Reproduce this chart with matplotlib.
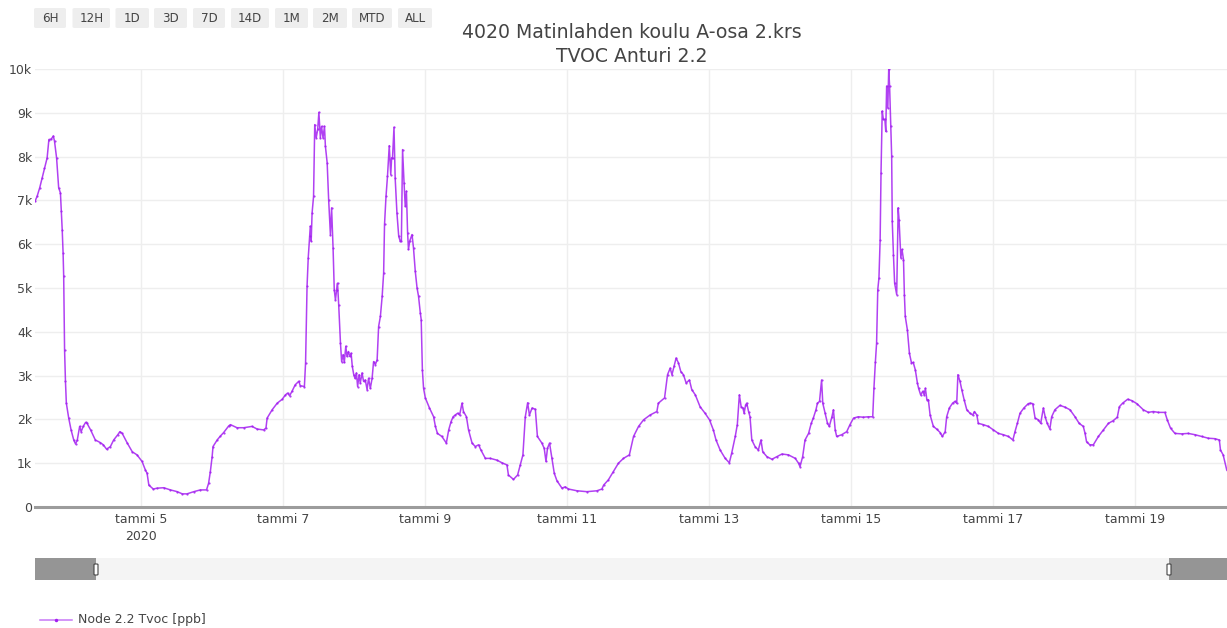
import matplotlib
matplotlib.use('Agg')
import matplotlib.pyplot as plt
import pandas as pd
from matplotlib.patches import FancyBboxPatch, Rectangle
from matplotlib.lines import Line2D

plt.rcParams['font.family'] = ['DejaVu Sans']

# ---------------- data ----------------
title_lines = ['4020 Matinlahden koulu A-osa 2.krs', 'TVOC Anturi 2.2']
series_name = 'Node 2.2 Tvoc [ppb]'
buttons = ['6H', '12H', '1D', '3D', '7D', '14D', '1M', '2M', 'MTD', 'ALL']

start_time = '2020-01-03 12:00'
# hours after start_time
hours = [
    0.0, 0.7, 1.6, 2.4, 3.2, 4.1, 4.7, 5.5, 6.2, 6.6, 7.3, 8.0, 8.6, 8.9, 9.2, 9.5, 9.7, 10.0, 10.3, 10.6,
    11.4, 12.2, 13.1, 13.7, 14.3, 15.1, 15.6, 16.3, 17.1, 17.6, 18.8, 20.4, 22.1, 23.1, 24.2, 25.5, 26.6,
    28.0, 28.7, 29.5, 31.2, 32.9, 34.5, 36.2, 37.3, 37.9, 38.5, 40.0, 41.3, 43.5, 45.8, 48.1, 49.8, 51.4,
    53.7, 55.9, 58.0, 58.7, 59.3, 59.9, 60.2, 61.6, 62.7, 63.8, 65.5,
    66.1, 68.3, 70.6, 73.4, 75.1, 77.3, 78.1, 78.5, 80.2, 81.9, 83.6, 84.7, 85.4, 86.1, 86.9, 88.0, 89.2,
    89.7, 91.1, 91.5, 92.0, 92.4, 92.9, 93.1, 93.4, 93.7, 94.2, 94.6, 95.1, 95.6, 96.0, 96.5, 96.9, 97.4,
    97.9, 98.2, 98.8, 99.3, 99.9, 100.3, 100.8, 101.2, 101.6, 102.0, 102.3, 102.7, 103.3, 103.7, 104.2,
    104.6, 105.1, 105.5, 106.0, 106.4, 106.9, 107.3, 107.8, 108.2, 108.7, 109.1, 109.6, 110.0, 110.6,
    111.1, 111.7, 112.3, 112.8, 113.4, 114.0, 114.5, 115.1, 115.7, 116.2, 116.8, 117.4, 117.9, 118.2,
    118.7, 119.2, 119.8, 120.3, 120.6, 120.9, 121.4, 121.8, 122.4, 123.0, 123.5, 123.9, 124.3, 124.8,
    125.2, 125.6, 126.0, 126.3, 126.7, 127.5, 128.0, 128.6, 129.2, 129.7, 130.3, 130.6, 131.0, 131.4,
    132.0, 133.4,
    134.8, 135.4, 136.1, 137.6, 139.1, 139.9, 140.7, 141.4, 142.1, 142.9, 143.6, 144.4, 144.9, 145.9,
    146.6, 147.8, 148.9, 150.0, 150.8, 152.3, 154.0, 156.2, 157.9, 159.6, 160.1, 161.8, 163.2, 164.1,
    165.0, 165.8, 166.6, 167.2, 168.1, 169.2, 169.9, 171.4, 172.2, 172.8, 173.3, 174.0, 174.8, 175.6,
    176.5, 178.2, 179.3, 180.4, 183.3, 186.6, 190.0, 191.7, 192.3, 193.9, 195.6, 197.3, 199.0, 201.0,
    202.4, 204.1, 205.8, 208.0, 210.3, 210.8, 212.9, 213.9, 214.8, 215.4, 216.1, 216.8, 217.6, 218.4,
    219.3, 220.2, 221.3, 222.1, 223.3, 224.9, 226.6, 228.1, 229.4, 230.3, 231.7, 233.4, 234.8, 235.6,
    236.8, 237.5, 238.2, 238.8, 239.4, 239.8, 240.3, 240.7, 241.3, 241.8, 242.4, 243.5, 244.6, 245.5,
    246.1, 247.5, 249.2, 250.9, 252.6, 254.8, 257.1, 258.2, 258.7, 259.6, 260.4, 261.6, 262.5, 263.2,
    264.1, 264.6, 265.3, 266.0, 266.4, 267.2, 268.0, 268.6,
    269.5, 270.0, 270.6, 271.1, 272.8, 274.5, 275.6, 276.8, 278.4, 280.1, 281.8, 283.3, 283.7, 284.2,
    284.6, 285.0, 285.4, 285.8, 286.1, 286.5, 286.9, 287.4, 287.7, 288.0, 288.4, 288.7, 289.0, 289.4,
    289.7, 289.9, 290.3, 290.7, 291.4, 291.9, 292.2, 292.8, 293.2, 293.7, 294.0, 294.3, 295.0, 295.7,
    296.4, 297.0, 297.7, 298.4, 298.8, 299.5, 300.2, 300.7, 301.1, 301.6, 302.1, 302.7, 303.8, 304.9,
    306.1, 306.8, 307.8, 308.3, 309.2, 310.3, 311.1, 311.7, 312.1, 312.8, 313.4, 314.2, 315.1, 316.2,
    317.1, 317.7, 318.5, 319.0, 320.7, 322.4, 324.1, 325.8, 327.5, 329.2, 330.7, 331.4, 332.2, 333.1,
    334.4, 335.9,
    336.5, 337.4, 338.2, 339.3, 340.1, 341.0, 341.6, 342.3, 343.2, 343.8, 344.9, 346.6, 348.3, 350.0,
    351.7, 353.1, 354.5, 355.1, 355.6, 356.7, 357.9, 359.6, 361.3, 363.0, 364.6, 366.0, 366.7, 367.8,
    369.5, 370.9, 372.6, 374.8, 376.5, 378.2, 379.9, 382.1, 382.9, 384.0, 385.5, 387.8, 390.0, 392.3,
    394.5, 396.8, 399.0, 400.5, 400.9, 401.8, 403.0,
]
tvoc_ppb = [
    6980, 7090, 7290, 7510, 7740, 7970, 8390, 8400, 8470, 8350, 7970, 7290, 7170, 6750, 6330, 5800, 5270, 3590, 2870, 2370,
    2030, 1760, 1530, 1440, 1530, 1840, 1720, 1840, 1930, 1910, 1760, 1530, 1470, 1420, 1320, 1380, 1530,
    1650, 1720, 1680, 1460, 1260, 1190, 1040, 850, 770, 500, 410, 430, 440, 390, 350, 300, 300,
    350, 390, 390, 540, 810, 1150, 1380, 1530, 1620, 1700, 1850,
    1880, 1810, 1810, 1840, 1780, 1760, 1800, 2030, 2220, 2370, 2460, 2560, 2600, 2540, 2640, 2790, 2870,
    2770, 2750, 3290, 5040, 5690, 6180, 6410, 6070, 6710, 7090, 8730, 8430, 8620, 9010, 8430, 8690, 8430,
    8690, 8240, 7860, 7020, 6220, 6830, 5910, 4960, 4730, 4960, 5110, 4620, 3740, 3320, 3480,
    3300, 3670, 3440, 3550, 3440, 3510, 3210, 3020, 2940, 3060, 2750, 3020, 2830, 3060,
    2870, 2900, 2680, 2940, 2710, 2940, 3320, 3250, 3360, 4120, 4350, 4810, 5340, 6450,
    7090, 7550, 8250, 7590, 7970, 7970, 8670, 7510, 6710, 6180, 6070, 6070, 8160, 7400,
    6870, 7210, 6260, 5880, 6070, 6220, 5910, 5380, 5000, 4810, 4430, 4280, 3130, 2710,
    2490, 2260,
    2060, 1840, 1680, 1610, 1460, 1760, 1950, 2060, 2100, 2140, 2100, 2370, 2180, 2060,
    1760, 1460, 1380, 1420, 1300, 1110, 1110, 1070, 1010, 960, 730, 630, 730, 960,
    1190, 2060, 2380, 2100, 2260, 2230, 1610, 1460, 1340, 1040, 1340, 1460, 1110, 770,
    600, 430, 460, 410, 370, 350, 370, 410, 500, 620, 810, 1000, 1110, 1190,
    1610, 1840, 1990, 2100, 2180, 2370, 2490, 3020, 3170, 3020, 3210, 3400, 3290, 3090,
    3020, 2830, 2900, 2680, 2560, 2290, 2140, 1990, 1760, 1530, 1300, 1110, 1010, 1230,
    1610, 1880, 2560, 2290, 2260, 2140, 2330, 2370, 2180, 2060, 1530, 1380, 1300, 1530,
    1260, 1150, 1090, 1150, 1210, 1190, 1110, 1000, 920, 1150, 1530, 1680, 1910, 2030,
    2220, 2370, 2410, 2900, 2370, 2140, 1910, 1840,
    2060, 2220, 1760, 1610, 1650, 1720, 1880, 2030, 2060, 2050, 2060, 2060, 2710, 3320,
    3740, 4960, 5230, 6100, 7630, 9040, 8850, 8850, 8580, 9610, 9110, 9990, 9610, 8690,
    8010, 6520, 5760, 5110, 4850, 6830, 6560, 5690, 5880, 5650, 4850, 4350, 4050, 3510,
    3290, 3300, 3130, 2830, 2710, 2560, 2640, 2560, 2710, 2450, 2450, 2100, 1840, 1780,
    1700, 1610, 1720, 2060, 2260, 2370, 2410, 2370, 3020, 2870, 2680, 2450, 2220, 2140,
    2100, 2180, 2100, 1910, 1880, 1840, 1760, 1680, 1650, 1610, 1530, 1720, 1910, 2140,
    2260, 2360,
    2370, 2360, 2030, 1990, 1910, 2260, 2060, 1910, 1780, 2060, 2220, 2320, 2280, 2220,
    2060, 1910, 1840, 1680, 1490, 1420, 1420, 1610, 1760, 1910, 1970, 2050, 2290, 2370,
    2460, 2430, 2360, 2220, 2160, 2180, 2160, 2160, 1990, 1800, 1680, 1670, 1680, 1650,
    1610, 1570, 1560, 1530, 1300, 1190, 850,
]
end_hours = 403.1

ytick_values = [0, 1000, 2000, 3000, 4000, 5000, 6000, 7000, 8000, 9000, 10000]
ytick_labels = ['0', '1k', '2k', '3k', '4k', '5k', '6k', '7k', '8k', '9k', '10k']
xtick_dates = pd.date_range('2020-01-05', '2020-01-19', freq='2D')
xtick_labels = ['tammi 5\n2020', 'tammi 7', 'tammi 9', 'tammi 11', 'tammi 13',
                'tammi 15', 'tammi 17', 'tammi 19']

# ---------------- figure ----------------
W, H = 1227, 628
fig = plt.figure(figsize=(W / 100, H / 100), dpi=100)
fig.patch.set_facecolor('white')

t0 = pd.Timestamp(start_time)
times = t0 + pd.to_timedelta(hours, unit='h')
t_end = t0 + pd.to_timedelta(end_hours, unit='h')

LINE = '#a31ff0'
TXT = '#444444'

ax = fig.add_axes([35 / W, (H - 507) / H, 1192 / W, 438 / H])
ax.plot(times, tvoc_ppb, color=LINE, lw=1.1, alpha=0.85,
        marker='o', markersize=1.6, markerfacecolor=LINE, markeredgewidth=0,
        solid_joinstyle='round', zorder=3)
ax.set_xlim(t0, t_end)
ax.set_ylim(0, 10000)
for s in ax.spines.values():
    s.set_visible(False)
ax.axhline(0, color='#9c9c9c', lw=2.2, zorder=4, clip_on=False)
ax.set_yticks(ytick_values)
ax.set_yticklabels(ytick_labels)
ax.set_xticks(xtick_dates)
ax.set_xticklabels(xtick_labels, linespacing=1.45)
ax.tick_params(axis='both', length=0, labelsize=9, labelcolor=TXT)
ax.tick_params(axis='y', pad=2)
ax.tick_params(axis='x', pad=4)
ax.grid(True, color='#eeeeee', lw=1, zorder=0)
ax.set_axisbelow(True)

def fx(x):
    return x / W

def fy(y):
    return 1 - y / H

# title
fig.text(fx(632), fy(33), title_lines[0], ha='center', va='center', fontsize=13.6, color=TXT)
fig.text(fx(632), fy(57), title_lines[1], ha='center', va='center', fontsize=13.6, color=TXT)

# range-selector buttons (pixel layout)
btn_left = [34, 72.5, 115.5, 154, 193, 231, 275, 313, 352, 398]
btn_right = [66, 110, 149, 187, 225, 269, 308, 347, 392, 432]
for lbl, l, r in zip(buttons, btn_left, btn_right):
    p = FancyBboxPatch((fx(l), fy(28)), fx(r - l), 20 / H,
                       boxstyle='round,pad=0,rounding_size=0.002',
                       transform=fig.transFigure, fc='#eeeeee', ec='none')
    fig.add_artist(p)
    fig.text(fx((l + r) / 2), fy(18), lbl, ha='center', va='center', fontsize=8.6, color=TXT)

# range slider
fig.add_artist(Rectangle((fx(35), fy(580)), fx(1192), 22 / H, transform=fig.transFigure,
                         fc='#f4f4f4', ec='none'))
fig.add_artist(Rectangle((fx(35), fy(580)), fx(61), 22 / H, transform=fig.transFigure,
                         fc='#959595', ec='none'))
fig.add_artist(Rectangle((fx(1169), fy(580)), fx(58), 22 / H, transform=fig.transFigure,
                         fc='#959595', ec='none'))
for hx in (96, 1169):
    fig.add_artist(FancyBboxPatch((fx(hx - 2), fy(575)), fx(4), 11 / H,
                                  boxstyle='round,pad=0,rounding_size=0.001',
                                  transform=fig.transFigure, fc='white', ec='#444444', lw=0.8))

# legend
fig.add_artist(Line2D([fx(40), fx(72)], [fy(620), fy(620)], transform=fig.transFigure,
                      color=LINE, lw=1.1, alpha=0.6))
fig.add_artist(Line2D([fx(56)], [fy(620)], transform=fig.transFigure, color=LINE,
                      marker='o', markersize=2.5, markeredgewidth=0))
fig.text(fx(78), fy(620), series_name, ha='left', va='center', fontsize=9, color=TXT)

fig.savefig('out.png', dpi=100, facecolor='white')
